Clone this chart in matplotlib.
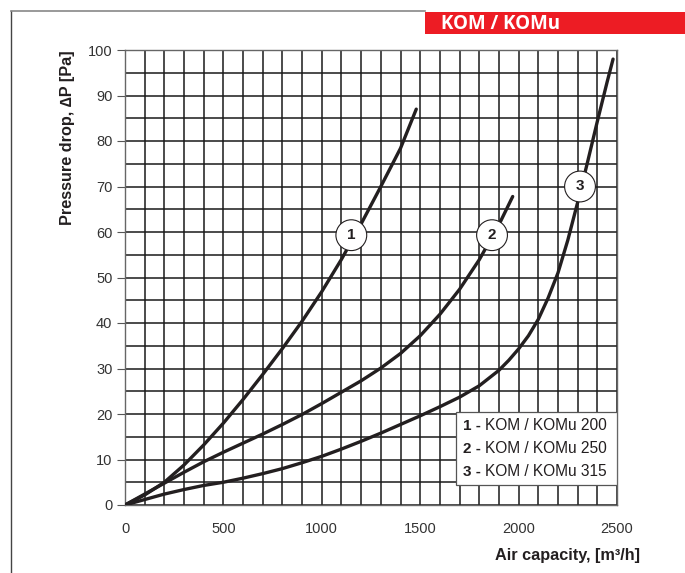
import matplotlib
matplotlib.use("Agg")
import matplotlib.pyplot as plt
from matplotlib.patches import Rectangle
from matplotlib.lines import Line2D

plt.rcParams["font.family"] = ["Liberation Sans", "DejaVu Sans"]

# curve 1 - KOM / KOMu 200
x1 = [0, 100, 200, 300, 400, 500, 600, 700, 800, 900, 1000, 1100, 1200, 1300, 1400, 1480]
y1 = [0, 2.2, 5, 8.8, 13.2, 18, 23.2, 28.7, 34.4, 40.4, 46.9, 54, 61.8, 70, 78.4, 87]
# curve 2 - KOM / KOMu 250
x2 = [0, 100, 200, 300, 400, 500, 600, 700, 800, 900, 1000, 1100, 1200, 1300, 1400,
      1500, 1600, 1700, 1800, 1900, 1970]
y2 = [0, 2.4, 4.8, 7.2, 9.5, 11.6, 13.6, 15.6, 17.7, 19.9, 22.3, 24.8, 27.3, 30.1, 33.3,
      37.2, 41.9, 47.4, 53.9, 61.6, 67.8]
# curve 3 - KOM / KOMu 315
x3 = [0, 100, 200, 300, 400, 500, 600, 700, 800, 900, 1000, 1100, 1200, 1300, 1400,
      1500, 1600, 1700, 1800, 1900, 1950, 2000, 2050, 2100, 2150, 2200, 2250, 2300,
      2350, 2400, 2450, 2480]
y3 = [0, 1.2, 2.4, 3.4, 4.3, 5.0, 5.9, 6.9, 8.0, 9.3, 10.7, 12.3, 14.0, 15.8, 17.7,
      19.6, 21.6, 23.7, 26.2, 29.6, 31.8, 34.3, 37.2, 40.8, 45.5, 51, 58.2, 66.5,
      75.3, 84.3, 93, 98]

curve_ids = ["1", "2", "3"]
curve_names = ["KOM / KOMu 200", "KOM / KOMu 250", "KOM / KOMu 315"]
label_pos = [(1150, 59.3), (1865, 59.3), (2312, 70)]

xticks = [0, 500, 1000, 1500, 2000, 2500]
yticks = list(range(0, 101, 10))

fig = plt.figure(figsize=(6.85, 5.73), dpi=100)
ax = fig.add_axes([125 / 685, 68 / 573, 492 / 685, 455 / 573])

ax.set_xlim(0, 2500)
ax.set_ylim(0, 100)
ax.set_xticks(xticks)
ax.set_yticks(yticks)
ax.set_xticks(range(0, 2501, 100), minor=True)
ax.set_yticks(range(0, 101, 5), minor=True)
ax.grid(which="both", color="#1a1a1a", lw=1.1)
ax.set_axisbelow(True)
ax.tick_params(axis="y", which="major", direction="out", length=6, width=0.8,
               color="#555555", labelsize=10.5, labelcolor="#333333", pad=3)
ax.tick_params(axis="x", which="major", length=0, labelsize=10.5,
               labelcolor="#333333", pad=12)
ax.tick_params(which="minor", length=0)
for s in ax.spines.values():
    s.set_color("#666666")
    s.set_linewidth(1.0)

for xs, ys in [(x1, y1), (x2, y2), (x3, y3)]:
    ax.plot(xs, ys, color="#231f20", lw=2.4, solid_capstyle="round",
            solid_joinstyle="round", zorder=3)

for cid, (lx, ly) in zip(curve_ids, label_pos):
    ax.text(lx, ly, cid, ha="center", va="center", fontsize=11, fontweight="bold",
            color="#231f20", zorder=5,
            bbox=dict(boxstyle="circle,pad=0.55", fc="white", ec="#231f20", lw=0.8))

# legend box
ax.add_patch(Rectangle((0.673, 0.044), 0.327, 0.160, transform=ax.transAxes,
                       fc="white", ec="#555555", lw=0.9, zorder=5))
for i, (cid, name) in enumerate(zip(curve_ids, curve_names)):
    yy = 0.174 - i * 0.0505
    ax.text(0.686, yy, cid + " -", transform=ax.transAxes, fontsize=11,
            fontweight="bold", color="#231f20", va="center", zorder=6)
    ax.text(0.732, yy, name, transform=ax.transAxes, fontsize=11.2,
            color="#231f20", va="center", zorder=6)

ax.set_ylabel("Pressure drop, \u2206P [Pa]", fontsize=11.7, fontweight="bold",
              loc="top", color="#231f20")
ax.yaxis.set_label_coords(-0.102, 1.0)
ax.set_xlabel("Air capacity, [m\u00b3/h]", fontsize=11.7, fontweight="bold",
              loc="right", color="#231f20")
ax.xaxis.set_label_coords(1.047, -0.095)

# frame lines and red title box
fig.add_artist(Line2D([11 / 685, 11 / 685], [0, 1 - 11 / 573], color="#444444", lw=1.0))
fig.add_artist(Line2D([11 / 685, 425 / 685], [1 - 11 / 573, 1 - 11 / 573],
                      color="#888888", lw=1.2))
fig.add_artist(Rectangle((425 / 685, 1 - 34 / 573), 260 / 685, 22 / 573,
                         transform=fig.transFigure, fc="#ed1c24", ec="none"))
fig.text(441 / 685, 1 - 24 / 573, "KOM / KOMu", color="white", fontsize=13.5,
         fontweight="bold", va="center", ha="left", family=["Open Sans", "DejaVu Sans"])

fig.savefig("out.png", dpi=100)
